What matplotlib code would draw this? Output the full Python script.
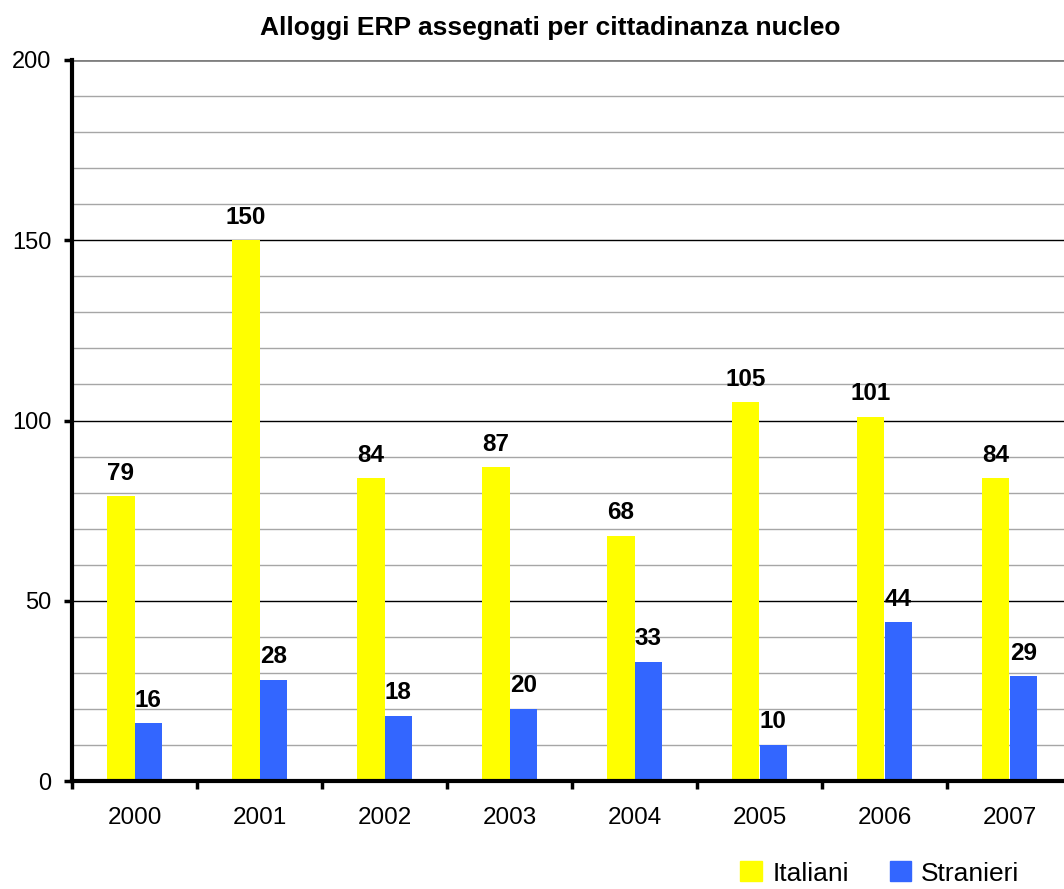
import numpy as np
import matplotlib
matplotlib.use('Agg')
import matplotlib.pyplot as plt
from matplotlib.patches import Patch

plt.rcParams['font.family'] = ['Liberation Sans', 'DejaVu Sans']

years = ['2000', '2001', '2002', '2003', '2004', '2005', '2006', '2007']
italiani = [79, 150, 84, 87, 68, 105, 101, 84]
stranieri = [16, 28, 18, 20, 33, 10, 44, 29]

col_ita = '#FFFF00'
col_str = '#3366FF'
bw = 0.22

fig = plt.figure(figsize=(10.64, 8.89), dpi=100)
ax = fig.add_axes([72/1064, 108/889, 1000/1064, 721/889])

x = np.arange(len(years))
b1 = ax.bar(x - bw/2, italiani, bw, color=col_ita, zorder=3)
b2 = ax.bar(x + bw/2, stranieri, bw, color=col_str, zorder=3)

for bars, vals in ((b1, italiani), (b2, stranieri)):
    for r, v in zip(bars, vals):
        ax.annotate(str(v), (r.get_x() + r.get_width()/2, v),
                    xytext=(0, 12), textcoords='offset points',
                    ha='center', va='baseline', fontsize=17.5, fontweight='bold')

ax.set_xlim(-0.5, len(years) - 0.5)
ax.set_ylim(0, 200)

# y axis
ax.set_yticks(np.arange(0, 201, 50))
ax.set_yticks(np.arange(0, 201, 10), minor=True)
ax.tick_params(axis='y', which='major', length=6, width=2.5, direction='out',
               labelsize=17, pad=9)
ax.tick_params(axis='y', which='minor', length=0)
ax.yaxis.grid(True, which='minor', color='#a6a6a6', linewidth=1, zorder=0)
ax.yaxis.grid(True, which='major', color='black', linewidth=1, zorder=1)
ax.get_ygridlines()[-1].set_color('#808080')
ax.get_ygridlines()[-1].set_linewidth(2)

# x axis: ticks at category boundaries, labels centered
ax.set_xticks(np.arange(-0.5, len(years), 1.0))
ax.set_xticklabels([])
ax.set_xticks(x, minor=True)
ax.set_xticklabels(years, minor=True)
ax.tick_params(axis='x', which='major', length=6, width=2.5, direction='out')
ax.tick_params(axis='x', which='minor', length=0, labelsize=17.5, pad=19)
ax.set_axisbelow(True)

for s in ('top', 'right'):
    ax.spines[s].set_visible(False)
for s in ('left', 'bottom'):
    ax.spines[s].set_linewidth(3)
    ax.spines[s].set_zorder(5)

fig.text(550/1064, 1 - 35/889, 'Alloggi ERP assegnati per cittadinanza nucleo',
         ha='center', va='baseline', fontsize=19, fontweight='bold')

handles = [Patch(color=col_ita, label='Italiani'), Patch(color=col_str, label='Stranieri')]
fig.legend(handles=handles, loc='lower left', bbox_to_anchor=(722/1064, -15/889),
           ncol=2, frameon=False, fontsize=19, handlelength=0.8, handleheight=0.8,
           handletextpad=0.4, columnspacing=1.55, borderpad=0.2)

fig.savefig('out.png', dpi=100)
